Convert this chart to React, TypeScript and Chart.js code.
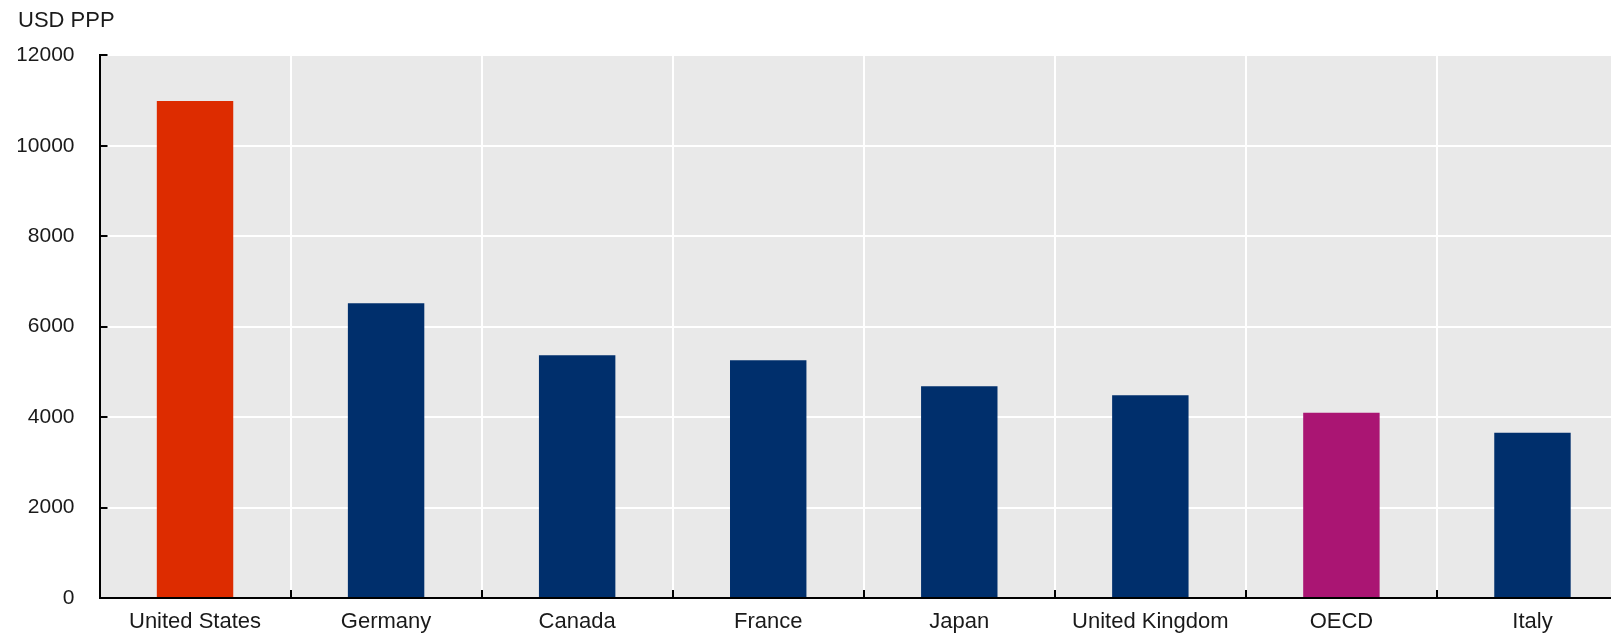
import React, { useEffect, useRef } from "react";
import { Chart, registerables } from "chart.js";

Chart.register(...registerables);

const categories = ["United States", "Germany", "Canada", "France", "Japan", "United Kingdom", "OECD", "Italy"];
const values = [10990, 6520, 5370, 5260, 4685, 4486, 4095, 3653];
const barColors = ["#DD2C00", "#002F6C", "#002F6C", "#002F6C", "#002F6C", "#002F6C", "#AA1573", "#002F6C"];
const yTicks = [0, 2000, 4000, 6000, 8000, 10000, 12000];
const unitLabel = "USD PPP";

const TEXT = "#1a1a1a";

const bgPlugin = {
  id: "plotBg",
  beforeDraw(chart: any) {
    const { ctx, chartArea } = chart;
    ctx.save();
    ctx.fillStyle = "#E9E9E9";
    ctx.fillRect(chartArea.left, chartArea.top, chartArea.right - chartArea.left, chartArea.bottom - chartArea.top);
    ctx.restore();
  },
};

const innerTicksPlugin = {
  id: "innerTicks",
  afterDraw(chart: any) {
    const { ctx, chartArea } = chart;
    const x = chart.scales.x;
    const y = chart.scales.y;
    ctx.save();
    ctx.strokeStyle = "#000";
    ctx.lineWidth = 2;
    ctx.beginPath();
    yTicks.forEach((v) => {
      const py = Math.round(y.getPixelForValue(v));
      ctx.moveTo(chartArea.left, py);
      ctx.lineTo(chartArea.left + 8, py);
    });
    for (let i = 0; i < categories.length - 1; i++) {
      const px = Math.round((x.getPixelForValue(i) + x.getPixelForValue(i + 1)) / 2);
      ctx.moveTo(px, chartArea.bottom);
      ctx.lineTo(px, chartArea.bottom - 8);
    }
    ctx.stroke();
    ctx.restore();
  },
};

export default function App() {
  const ref = useRef<HTMLCanvasElement | null>(null);

  useEffect(() => {
    document.body.style.margin = "0";
    if (!ref.current) return;
    const chart = new Chart(ref.current, {
      type: "bar",
      data: {
        labels: categories,
        datasets: [
          {
            data: values,
            backgroundColor: barColors,
            borderWidth: 0,
            barPercentage: 0.4,
            categoryPercentage: 1,
          },
        ],
      },
      options: {
        animation: false,
        responsive: true,
        maintainAspectRatio: false,
        layout: { padding: { left: 18, right: 4, top: 8, bottom: 0 } },
        plugins: {
          legend: { display: false },
          tooltip: { enabled: false },
          title: {
            display: true,
            text: unitLabel,
            align: "start",
            color: TEXT,
            font: { family: "'Liberation Sans', Arial, sans-serif", size: 22, weight: "normal" },
            padding: { top: 0, bottom: 21 },
          },
        },
        scales: {
          x: {
            offset: true,
            grid: {
              display: true,
              offset: true,
              color: "#FFFFFF",
              lineWidth: 2,
              drawTicks: false,
            },
            border: { display: true, color: "#000", width: 2 },
            ticks: {
              color: TEXT,
              padding: 11,
              font: { family: "'Liberation Sans', Arial, sans-serif", size: 22 },
              maxRotation: 0,
              autoSkip: false,
            },
            afterFit: (s: any) => {
              s.height = 40;
            },
          },
          y: {
            min: 0,
            max: 12000,
            afterBuildTicks: (s: any) => {
              s.ticks = yTicks.map((v) => ({ value: v }));
            },
            grid: {
              color: "#FFFFFF",
              lineWidth: 2,
              drawTicks: false,
            },
            border: { display: true, color: "#000", width: 2 },
            ticks: {
              color: TEXT,
              padding: 25,
              font: { family: "'Liberation Sans', Arial, sans-serif", size: 21 },
              callback: (v: any) => String(v),
            },
            afterFit: (s: any) => {
              s.width = 81.5;
            },
          },
        },
      },
      plugins: [bgPlugin, innerTicksPlugin],
    });
    return () => chart.destroy();
  }, []);

  return (
    <div style={{ width: "1611px", height: "638px", overflow: "hidden", position: "relative" }}>
      <div style={{ width: "1632px", height: "638px", position: "relative" }}>
        <canvas ref={ref} />
      </div>
    </div>
  );
}
